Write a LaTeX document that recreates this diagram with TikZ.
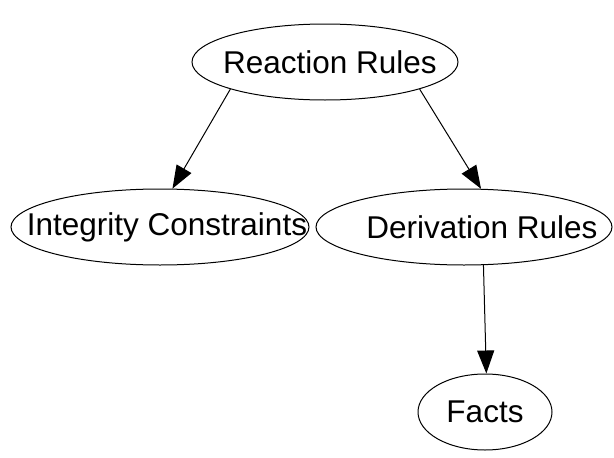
\documentclass[tikz,border=0pt]{standalone}
\usepackage{fontspec}
\setmainfont{Liberation Sans}
\usetikzlibrary{shapes.geometric,arrows.meta}
\newcommand{\gvlabel}[2][0pt]{\makebox[0pt]{\hspace*{#1}\hspace*{#1}#2}}
\begin{document}
\begin{tikzpicture}[x=1pt,y=-1pt,
  gvnode/.style={ellipse,draw=black,line width=1pt,inner sep=0pt,minimum height=76pt,font=\fontsize{31.5}{36}\selectfont},
  gvedge/.style={line width=1pt,-{Triangle[length=23pt,width=17pt]}}]
\useasboundingbox (0,0) rectangle (614,458);
\node[gvnode,minimum width=266pt] (rr) at (325,62) {\gvlabel[5pt]{Reaction Rules}};
\node[gvnode,minimum width=298pt] (ic) at (160,227) {\gvlabel[7pt]{Integrity Constraints}};
\node[gvnode,minimum width=296pt] (dr) at (464,227) {\gvlabel[18pt]{Derivation Rules}};
\node[gvnode,minimum width=134pt] (fa) at (485,412) {\gvlabel{Facts}};
\draw[gvedge] (rr.196) -- (ic.72);
\draw[gvedge] (rr.344) -- (dr.66);
\draw[gvedge] (dr.297) -- (fa.88);
\end{tikzpicture}
\end{document}
